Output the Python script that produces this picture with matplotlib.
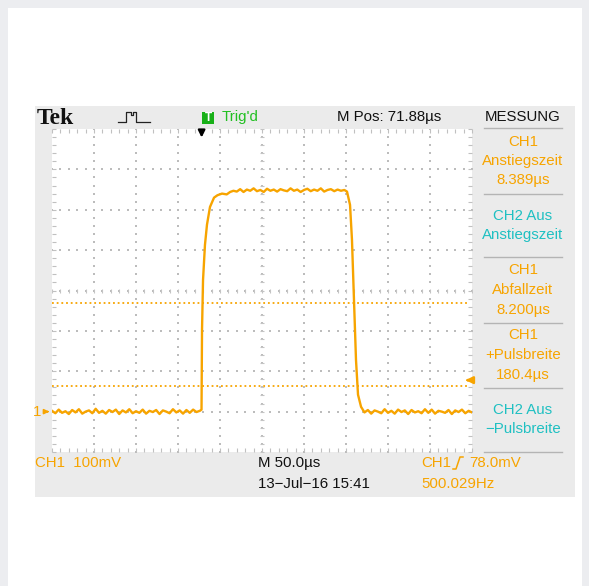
import numpy as np
import matplotlib.pyplot as plt
from matplotlib.patches import Rectangle
from matplotlib.lines import Line2D

W, H = 589, 586

# CH1 record: time in µs across the screen, level in mV above the ground marker
low1_us = [0, 4, 8, 12, 16, 20, 24, 28, 32, 36, 40, 44, 48, 52, 56, 60, 64, 68, 72, 76,
           80, 84, 88, 92, 96, 100, 104, 108, 112, 116, 120, 124, 128, 132, 136, 140,
           144, 148, 152, 156, 160, 164, 168, 172, 176]
low1_mv = [2, -4, 5, -3, 1, -6, 4, -2, 6, -5, 0, 3, -4, 7, -3, 2, -5, 4, -1, 5,
           -6, 3, -2, 6, -4, 1, -3, 5, -5, 2, -1, 4, -6, 3, 0, -4, 6, -2, 3, -5,
           4, -3, 5, -1, 2]
rise_us = [178.0, 178.6, 179.8, 182.1, 184.5, 188.1, 192.9, 197.0, 202.4, 208.0, 212.0, 216.0]
rise_mv = [5, 203, 326, 413, 463, 507, 530, 536, 540, 538, 544, 547]
high_us = [220, 224, 228, 232, 236, 240, 244, 248, 252, 256, 260, 264, 268, 272, 276, 280,
           284, 288, 292, 296, 300, 304, 308, 312, 316, 320, 324, 328, 332, 336, 340, 344, 348]
high_mv = [545, 551, 544, 550, 547, 553, 546, 549, 544, 552, 547, 550, 545, 551, 548, 546,
           553, 547, 550, 544, 549, 552, 546, 550, 547, 553, 545, 549, 551, 546, 550, 547, 549]
fall_us = [351.2, 354.8, 357.1, 359.5, 361.9, 364.3, 367.9]
fall_mv = [545, 512, 426, 277, 128, 42, 12]
low2_us = [372, 376, 380, 384, 388, 392, 396, 400, 404, 408, 412, 416, 420, 424, 428, 432,
           436, 440, 444, 448, 452, 456, 460, 464, 468, 472, 476, 480, 484, 488, 492, 496, 500]
low2_mv = [-2, 4, -5, 3, 0, -4, 6, -3, 2, -5, 5, -1, 3, -6, 4, -2, 1, -4, 6, -3,
           5, -5, 2, 0, -3, 4, -6, 3, -1, 5, -4, 2, -2]

trace_us = low1_us + rise_us + high_us + fall_us + low2_us
trace_mv = low1_mv + rise_mv + high_mv + fall_mv + low2_mv

trig_level_mv = 78.0
m_pos_us = 71.88
cursor_mv = [64, 269]

# measurement menu on the right: (text, colour key)
meas_text = ["CH1", "Anstiegszeit", "8.389µs",
             "CH2 Aus", "Anstiegszeit",
             "CH1", "Abfallzeit", "8.200µs",
             "CH1", "+Pulsbreite", "180.4µs",
             "CH2 Aus", "−Pulsbreite"]
meas_chan = ["ch1", "ch1", "ch1", "ch2", "ch2", "ch1", "ch1", "ch1",
             "ch1", "ch1", "ch1", "ch2", "ch2"]
meas_y = [142, 161, 180, 216, 235, 270, 290, 310, 335, 355, 375, 410, 429]
sep_y = [128, 194, 257, 323, 388, 452]

ORANGE = '#f7a400'
CYAN = '#1fc0c2'
GREEN = '#22c022'
FONT = ['Liberation Sans', 'DejaVu Sans']
colours = {"ch1": ORANGE, "ch2": CYAN}


def fx(x):
    return x / W


def fy(y):
    return 1 - y / H


def label(x, y, s, color='#111111', ha='left', size=10.8, **kw):
    fig.text(fx(x), fy(y), s, color=color, ha=ha, va='center',
             fontsize=size, family=FONT, **kw)


fig = plt.figure(figsize=(W / 100, H / 100), dpi=100)
fig.patch.set_facecolor('#ecedf0')
fig.add_artist(Rectangle((fx(8), fy(586)), (582 - 8) / W, (586 - 8) / H,
                         transform=fig.transFigure, facecolor='white', lw=0, zorder=-10))
fig.add_artist(Rectangle((fx(35), fy(497)), (575 - 35) / W, (497 - 106) / H,
                         transform=fig.transFigure, facecolor='#ebebeb', lw=0, zorder=-9))

# graticule: 10 x 8 divisions, 50 µs and 100 mV each
ax = fig.add_axes([fx(52), fy(452), (472 - 52) / W, (452 - 129) / H])
ax.set_facecolor('white')
ax.set_xlim(0, 500)
ax.set_ylim(-100, 700)
for s in ax.spines.values():
    s.set_visible(False)
ax.set_xticks(np.arange(0, 501, 10))
ax.set_yticks(np.arange(-100, 701, 20))
ax.tick_params(direction='in', length=3, width=0.8, color='#c0c0c0',
               top=True, right=True, labelbottom=False, labelleft=False)

gx, gy = np.meshgrid(np.arange(50, 451, 50), np.arange(-100, 701, 20))
ax.scatter(gx.ravel(), gy.ravel(), s=1.3, marker='s', color='#bcbcbc', lw=0)
gx, gy = np.meshgrid(np.arange(0, 501, 10), np.arange(0, 601, 100))
ax.scatter(gx.ravel(), gy.ravel(), s=1.3, marker='s', color='#bcbcbc', lw=0)
cy = np.arange(-100, 701, 20)
ax.plot(np.full(len(cy), 250), cy, ls='none', marker='_', ms=3.5, mew=0.8, color='#c4c4c4')
cx = np.arange(0, 501, 10)
ax.plot(cx, np.full(len(cx), 300), ls='none', marker='|', ms=3.5, mew=0.8, color='#c4c4c4')

for lv in cursor_mv:
    ax.plot([0, 497], [lv, lv], ls=(0, (1, 1.6)), lw=1.3, color=ORANGE)

ax.plot(trace_us, trace_mv, color=ORANGE, lw=1.7, solid_joinstyle='round')

# ground marker, trigger level and trigger position
ax.annotate('1', xy=(0, 0), xycoords=('axes fraction', 'data'), xytext=(-11, 0),
            textcoords='offset points', ha='center', va='center', color=ORANGE,
            fontsize=10.8, family=FONT, annotation_clip=False)
ax.annotate('', xy=(0, 0), xycoords=('axes fraction', 'data'), xytext=(-6, 0),
            textcoords='offset points', annotation_clip=False,
            arrowprops=dict(arrowstyle='-|>', color=ORANGE, lw=1.2, mutation_scale=7))
ax.annotate('', xy=(489, trig_level_mv), xytext=(499, trig_level_mv),
            arrowprops=dict(arrowstyle='-|>', color=ORANGE, lw=1.8, mutation_scale=10))
ax.annotate('', xy=(250 - m_pos_us, 0.965), xycoords=('data', 'axes fraction'),
            xytext=(250 - m_pos_us, 1.0), annotation_clip=False,
            arrowprops=dict(arrowstyle='-|>', color='black', lw=1.6, mutation_scale=10))

# header line
fig.text(fx(37), fy(118), 'Tek', color='#111111', ha='left', va='center',
         fontsize=17, family=['Liberation Serif', 'DejaVu Serif'], weight='bold')
icon_x = [118, 126, 126, 131, 131, 133, 133, 136, 136, 150]
icon_y = [122, 122, 112, 112, 115, 115, 112, 112, 122, 122]
fig.add_artist(Line2D([fx(v) for v in icon_x], [fy(v) for v in icon_y],
                      transform=fig.transFigure, color='#222222', lw=0.9))
fig.add_artist(Rectangle((fx(202), fy(124)), 12 / W, 12 / H, transform=fig.transFigure,
                         facecolor='#18b018', lw=0))
label(208, 118, 'T', color='white', ha='center', size=8.5, weight='bold')
label(222, 117, "Trig'd", color=GREEN)
label(337, 117, 'M Pos: 71.88µs')
label(523, 117, 'MESSUNG', ha='center')

for s, ch, y in zip(meas_text, meas_chan, meas_y):
    label(523, y, s, color=colours[ch], ha='center')
for y in sep_y:
    fig.add_artist(Line2D([fx(484), fx(562)], [fy(y), fy(y)], transform=fig.transFigure,
                          color='#b4b4b4', lw=1.0))

# status line at the bottom
label(35, 463, 'CH1  100mV', color=ORANGE)
label(258, 463, 'M 50.0µs')
label(258, 484, '13−Jul−16 15:41')
label(421, 463, 'CH1', color=ORANGE)
slope_x = [453, 456, 460, 463]
slope_y = [469, 469, 457, 457]
fig.add_artist(Line2D([fx(v) for v in slope_x], [fy(v) for v in slope_y],
                      transform=fig.transFigure, color=ORANGE, lw=1.1))
label(469, 463, '78.0mV', color=ORANGE)
label(421, 484, '500.029Hz', color=ORANGE)

fig.savefig('out.png', dpi=100, facecolor=fig.get_facecolor())
